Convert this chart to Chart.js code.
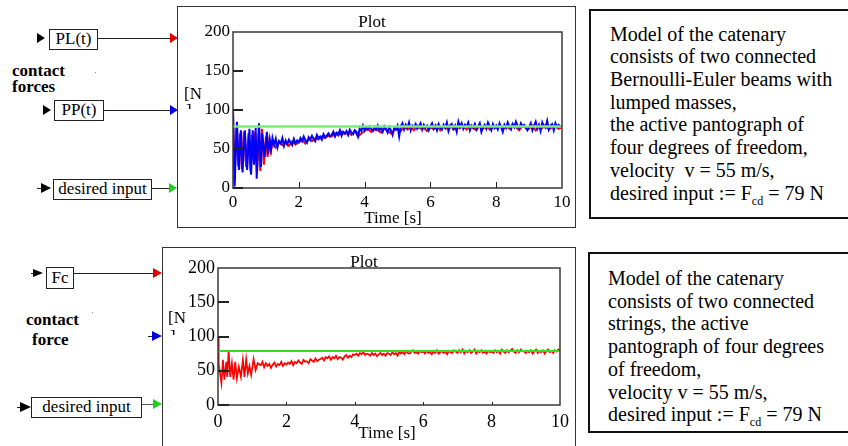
<!DOCTYPE html>
<html>
<head>
<meta charset="utf-8">
<script src="https://cdn.jsdelivr.net/npm/chart.js@4.4.1/dist/chart.umd.min.js"></script>
<style>
  html, body { margin:0; padding:0; background:#fff; }
  body { width:848px; height:446px; position:relative; overflow:hidden; font-family:"Liberation Serif","Times New Roman",Times,serif; color:#000; }
  .abs { position:absolute; }
  .box { position:absolute; box-sizing:border-box; border:1px solid #222; background:#fff; font-size:17px; line-height:18px; text-align:center; }
  .hl { position:absolute; height:1px; background:#222; }
  .tri { position:absolute; width:0; height:0; border-style:solid; border-color:transparent; }
  .lbl { position:absolute; font-size:17px; line-height:17px; white-space:nowrap; }
  .bold { font-weight:bold; }
  .frame { position:absolute; box-sizing:border-box; border:1px solid #333; }
  .note { position:absolute; box-sizing:border-box; border:2px solid #111; background:#fff; }
  .ntext { position:absolute; font-size:20px; line-height:22.7px; white-space:nowrap; }
  sub { font-size:12px; line-height:0; vertical-align:-5px; }
</style>
</head>
<body>
<script>
// ---------------- DATA ----------------
// tick labels
const yTickValues = [0, 50, 100, 150, 200];
const xTickValues = [0, 2, 4, 6, 8, 10];
const desiredForce = 79; // N

// Upper plot: PP(t) (blue) early oscillation turning points
const topBlueEarlyT = [0,0.05,0.12,0.18,0.24,0.29,0.36,0.43,0.50,0.55,0.60,0.64,0.69,0.72,0.79,0.85,0.89,0.96,1.03,1.07,1.12,1.16,1.20];
const topBlueEarlyF = [100,2,85,23,74,20,74,23,76,17,74,30,77,12,83,27,70,40,72,43,62,50,64];
// Upper plot: PP(t) noisy part, samples from 1.25 s every 0.05 s
const topBlueNoiseStart = 1.25, topBlueNoiseStep = 0.05;
const topBlueNoise = [
  55,63,52,60,57,64,54,61,56,62,58,55,63,57,61,
  59,64,60,66,61,58,65,62,67,63,60,68,64,66,62,69,65,67,70,66,
  68,72,66,71,69,74,67,72,70,73,68,75,71,69,74,72,66,76,73,80,
  74,78,75,79,76,73,78,75,80,74,77,72,79,76,71,78,74,68,77,75,
  80,66,79,83,75,81,77,84,74,80,78,82,76,79,83,75,81,77,80,74,
  79,83,76,80,74,82,78,75,81,77,84,73,79,82,76,80,72,85,78,83,
  76,81,79,84,74,80,77,82,75,79,83,72,78,81,76,84,79,74,82,77,
  80,75,83,78,72,81,77,84,79,75,82,78,85,80,76,83,79,81,77,74,
  78,83,74,80,85,76,81,73,84,79,77,86,75,80,82,74,83,78,81,79,
  80
];

// Upper plot: PL(t) (red) early oscillation turning points
const topRedEarlyT = [0,0.04,0.10,0.16,0.21,0.27,0.33,0.40,0.47,0.53,0.58,0.63,0.67,0.73,0.78,0.83,0.88,0.94,1.00,1.05,1.10,1.15,1.20];
const topRedEarlyF = [98,8,78,28,70,24,72,27,70,21,68,34,72,19,70,22,76,30,66,40,60,47,58];
// Upper plot: PL(t) noisy part, samples from 1.3 s every 0.1 s
const topRedNoiseStart = 1.3, topRedNoiseStep = 0.1;
const topRedNoise = [
  52,60,55,58,54,60,56,
  58,62,57,63,60,64,62,66,64,67,
  66,70,67,72,69,71,68,73,66,70,
  73,76,72,75,74,71,76,73,70,74,
  76,73,79,75,78,74,80,76,77,73,
  78,75,80,74,79,76,81,75,78,77,
  79,75,80,77,74,81,76,79,75,78,
  77,80,75,79,76,82,78,74,80,77,
  76,80,74,79,77,81,75,78,80,76,
  78
];

// Lower plot: Fc (red) early oscillation turning points
const botEarlyT = [0,0.02,0.10,0.145,0.184,0.242,0.271,0.31,0.358,0.407,0.455,0.504,0.552,0.61,0.67,0.727,0.775,0.824,0.872,0.92,0.97,1.04,1.10,1.16];
const botEarlyF = [100,60,32,66,37,63,41,79,41,61,37,63,39,56,41,66,41,67,46,57,44,67,51,61];
// Lower plot: Fc noisy part, samples from 1.25 s every 0.05 s
const botNoiseStart = 1.25, botNoiseStep = 0.05;
const botNoise = [
  58,63,55,61,57,60,54,59,62,56,60,58,63,57,61,
  59,62,60,64,58,63,61,65,62,60,66,63,64,61,67,65,63,68,64,66,
  67,69,65,70,68,71,66,70,68,72,67,70,69,66,71,73,69,72,70,74,
  73,75,72,76,74,77,73,75,74,72,76,73,75,71,74,76,73,75,72,76,
  75,73,77,74,76,72,78,75,77,74,79,76,75,78,80,76,77,75,79,77,
  78,75,79,76,77,74,78,76,80,75,77,79,76,78,74,79,77,76,80,78,
  76,80,77,81,75,79,77,80,76,78,81,75,79,77,80,76,78,75,79,77,
  78,76,80,77,79,75,81,78,76,80,77,79,82,78,76,80,77,81,79,78,
  76,79,77,80,75,78,81,76,79,77,80,75,78,81,77,79,76,80,78,81,
  79
];
</script>

<!-- ============ UPPER BLOCK DIAGRAM ============ -->
<div class="tri" style="left:37px;top:33px;border-width:5.5px 0 5.5px 8px;border-left-color:#000;"></div>
<div class="box" style="left:49px;top:29px;width:49px;height:21px;">PL(t)</div>
<div class="hl" style="left:98px;top:38px;width:72px;"></div>
<div class="tri" style="left:170px;top:33px;border-width:5px 0 5px 8px;border-left-color:#e00000;"></div>

<div class="lbl bold" style="left:12px;top:62px;">contact</div>
<div class="lbl bold" style="left:12px;top:78px;">forces</div>
<div class="abs" style="left:95px;top:72px;width:1px;height:1px;background:#888;"></div>

<div class="tri" style="left:43px;top:105px;border-width:5.5px 0 5.5px 8px;border-left-color:#000;"></div>
<div class="box" style="left:54px;top:100px;width:50px;height:21px;">PP(t)</div>
<div class="hl" style="left:104px;top:110px;width:66px;"></div>
<div class="tri" style="left:170px;top:105px;border-width:5px 0 5px 8px;border-left-color:#0000e0;"></div>

<div class="hl" style="left:37px;top:188px;width:6px;"></div>
<div class="tri" style="left:41px;top:183px;border-width:5.5px 0 5.5px 10px;border-left-color:#000;"></div>
<div class="box" style="left:53px;top:179px;width:99px;height:21px;">desired input</div>
<div class="hl" style="left:152px;top:188px;width:17px;"></div>
<div class="tri" style="left:169px;top:183px;border-width:5px 0 5px 8px;border-left-color:#22cc22;"></div>

<div class="frame" style="left:177px;top:6px;width:399px;height:222px;"></div>
<div class="abs" style="left:178px;top:7px;width:397px;height:220px;"><canvas id="c1" width="397" height="220"></canvas></div>
<div class="lbl" style="left:342px;top:13px;width:60px;text-align:center;">Plot</div>
<div class="lbl" style="left:184px;top:85px;">[N</div>
<div class="abs" style="left:186px;top:103px;width:6px;height:6px;overflow:hidden;"><div class="lbl" style="left:0;top:-1px;">]</div></div>
<div class="lbl" style="left:353px;top:209px;width:80px;text-align:center;">Time [s]</div>

<div class="note" style="left:589px;top:9px;width:270px;height:210px;"></div>
<div class="ntext" style="left:610px;top:22.6px;">Model of the catenary<br>consists of two connected<br>Bernoulli-Euler beams with<br>lumped masses,<br>the active pantograph of<br>four degrees of freedom,<br>velocity&nbsp; v = 55 m/s,<br>desired input := F<sub>cd</sub> = 79 N</div>

<!-- ============ LOWER BLOCK DIAGRAM ============ -->
<div class="hl" style="left:31px;top:273px;width:4px;"></div>
<div class="tri" style="left:33px;top:269px;border-width:4.5px 0 4.5px 10px;border-left-color:#000;"></div>
<div class="box" style="left:46px;top:267px;width:28px;height:22px;line-height:20px;">Fc</div>
<div class="hl" style="left:74px;top:273px;width:79px;"></div>
<div class="tri" style="left:153px;top:268px;border-width:5px 0 5px 9px;border-left-color:#e00000;"></div>

<div class="lbl bold" style="left:26px;top:311px;">contact</div>
<div class="lbl bold" style="left:32px;top:331px;">force</div>
<div class="abs" style="left:92px;top:312px;width:1px;height:1px;background:#888;"></div>

<div class="hl" style="left:148px;top:336px;width:5px;"></div>
<div class="tri" style="left:152px;top:331px;border-width:5px 0 5px 10px;border-left-color:#0000e0;"></div>

<div class="hl" style="left:17px;top:407px;width:5px;"></div>
<div class="tri" style="left:20px;top:402px;border-width:5.5px 0 5.5px 11px;border-left-color:#000;"></div>
<div class="box" style="left:31px;top:397px;width:111px;height:21px;">desired input</div>
<div class="hl" style="left:142px;top:404px;width:11px;background:#555;"></div>
<div class="tri" style="left:153px;top:399px;border-width:5px 0 5px 9px;border-left-color:#22cc22;"></div>

<div class="frame" style="left:162px;top:247px;width:414px;height:215px;"></div>
<div class="abs" style="left:163px;top:248px;width:412px;height:198px;"><canvas id="c2" width="412" height="198"></canvas></div>
<div class="lbl" style="left:334px;top:253px;width:60px;text-align:center;">Plot</div>
<div class="lbl" style="left:168px;top:309px;">[N</div>
<div class="abs" style="left:170px;top:329px;width:6px;height:6px;overflow:hidden;"><div class="lbl" style="left:0;top:-1px;">]</div></div>
<div class="lbl" style="left:347px;top:424px;width:80px;text-align:center;">Time [s]</div>

<div class="note" style="left:588px;top:252px;width:270px;height:181px;"></div>
<div class="ntext" style="left:608px;top:267px;">Model of the catenary<br>consists of two connected<br>strings, the active<br>pantograph of four degrees<br>of freedom,<br>velocity v = 55 m/s,<br>desired input := F<sub>cd</sub> = 79 N</div>

<script>
function buildSeries(earlyT, earlyF, noiseStart, noiseStep, noise) {
  const pts = earlyT.map((t, i) => ({ x: t, y: earlyF[i] }));
  noise.forEach((v, i) => pts.push({ x: +(noiseStart + i * noiseStep).toFixed(3), y: v }));
  return pts;
}
const desiredLine = [{ x: xTickValues[0], y: desiredForce }, { x: xTickValues[xTickValues.length - 1], y: desiredForce }];

const plotFrame = {
  id: 'plotFrame',
  afterDatasetsDraw(chart, args, opts) {
    const { ctx, chartArea: a, scales: { x, y } } = chart;
    ctx.save();
    ctx.strokeStyle = '#3a3a3a';
    ctx.lineWidth = 1.5;
    ctx.strokeRect(a.left, a.top, a.right - a.left, a.bottom - a.top);
    ctx.lineWidth = 2;
    ctx.strokeStyle = '#222';
    yTickValues.slice(0, -1).forEach(v => {
      const py = Math.round(y.getPixelForValue(v));
      ctx.beginPath(); ctx.moveTo(a.left, py); ctx.lineTo(a.left + opts.yLen, py); ctx.stroke();
    });
    ctx.lineWidth = 1;
    xTickValues.slice(1, -1).forEach(v => {
      const px = Math.round(x.getPixelForValue(v)) + 0.5;
      ctx.beginPath(); ctx.moveTo(px, a.bottom); ctx.lineTo(px, a.bottom - opts.xLen); ctx.stroke();
    });
    ctx.restore();
  }
};

function makeChart(id, datasets, cfg) {
  return new Chart(document.getElementById(id), {
    type: 'line',
    data: { datasets },
    plugins: [plotFrame],
    options: {
      responsive: false,
      animation: false,
      events: [],
      layout: { padding: { top: cfg.padTop, right: cfg.padRight, left: 0, bottom: 0 } },
      plugins: { legend: { display: false }, tooltip: { enabled: false }, title: { display: false }, plotFrame: { yLen: cfg.yLen, xLen: cfg.xLen } },
      elements: { point: { radius: 0 }, line: { tension: 0 } },
      scales: {
        x: {
          type: 'linear', min: 0, max: 10,
          grid: { display: false, drawTicks: false, tickLength: 0 },
          border: { display: false },
          afterBuildTicks: s => { s.ticks = xTickValues.map(v => ({ value: v })); },
          ticks: { color: '#000', padding: cfg.xPad, maxRotation: 0, autoSkip: false, font: { family: 'Liberation Serif', size: cfg.font } },
          afterFit: s => { s.height = cfg.xH; }
        },
        y: {
          type: 'linear', min: 0, max: 200,
          grid: { display: false, drawTicks: false, tickLength: 0 },
          border: { display: false },
          afterBuildTicks: s => { s.ticks = yTickValues.map(v => ({ value: v })); },
          ticks: { color: '#000', padding: 3, font: { family: 'Liberation Serif', size: cfg.font } },
          afterFit: s => { s.width = 55; }
        }
      }
    }
  });
}

makeChart('c1', [
  { label: 'desired input', data: desiredLine, borderColor: '#79ee79', borderWidth: 2.5, order: 0 },
  { label: 'PP(t)', data: buildSeries(topBlueEarlyT, topBlueEarlyF, topBlueNoiseStart, topBlueNoiseStep, topBlueNoise), borderColor: '#0000ff', borderWidth: 2, order: 1 },
  { label: 'PL(t)', data: buildSeries(topRedEarlyT, topRedEarlyF, topRedNoiseStart, topRedNoiseStep, topRedNoise), borderColor: '#ff0000', borderWidth: 2, order: 2 }
], { padTop: 25, padRight: 13, xH: 39, xPad: 4, font: 17, yLen: 10, xLen: 6 });

makeChart('c2', [
  { label: 'desired input', data: desiredLine, borderColor: '#33e01a', borderWidth: 2, order: 0 },
  { label: 'Fc', data: buildSeries(botEarlyT, botEarlyF, botNoiseStart, botNoiseStep, botNoise), borderColor: '#ff0000', borderWidth: 1.7, order: 1 }
], { padTop: 20, padRight: 13, xH: 41, xPad: 6, font: 18, yLen: 11, xLen: 3 });
</script>
</body>
</html>
